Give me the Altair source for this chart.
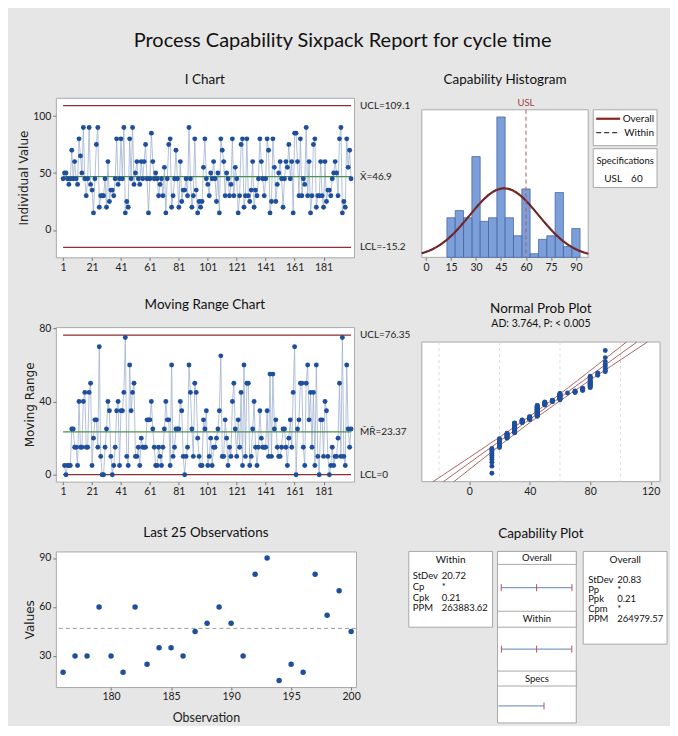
import altair as alt
import numpy as np
import pandas as pd
from statistics import NormalDist

# ---------------- data ----------------
cycle_time = [
    45, 50, 50, 45, 40, 45, 70, 45, 60, 45,
    40, 80, 65, 50, 90, 45, 30, 45, 90, 40,
    35, 15, 45, 75, 90, 20, 30, 30, 30, 45,
    20, 60, 25, 35, 35, 30, 45, 80, 40, 45,
    80, 45, 90, 15, 25, 20, 80, 45, 90, 40,
    50, 60, 45, 40, 60, 45, 60, 75, 45, 15,
    45, 85, 60, 45, 50, 45, 30, 40, 45, 30,
    55, 15, 45, 75, 80, 20, 30, 45, 70, 45,
    20, 60, 25, 35, 35, 45, 30, 90, 45, 20,
    30, 80, 35, 15, 25, 20, 25, 55, 80, 45,
    40, 30, 50, 45, 60, 45, 25, 50, 15, 80,
    70, 60, 30, 50, 45, 30, 40, 80, 30, 55,
    45, 15, 30, 75, 80, 20, 30, 80, 30, 25,
    35, 60, 20, 35, 30, 45, 80, 60, 45, 30,
    45, 80, 70, 15, 25, 80, 55, 25, 40, 50,
    60, 45, 20, 45, 60, 55, 75, 45, 60, 15,
    85, 85, 60, 30, 80, 30, 45, 40, 90, 30,
    60, 15, 30, 75, 80, 20, 30, 30, 60, 30,
    20, 60, 25, 35, 35, 30, 45, 50, 60, 50,
    30, 80, 90, 15, 25, 20, 80, 55, 70, 45,
]
x_bar = 46.9
i_ucl = 109.1
i_lcl = -15.2
mr_bar = 23.37
mr_ucl = 76.35
mr_lcl = 0.0
sd_within = 20.72
sd_overall = 20.83
usl = 60
bin_width = 5
n_last = 25

i_ticks = [1, 21, 41, 61, 81, 101, 121, 141, 161, 181]
i_value_ticks = [0, 50, 100]
mr_value_ticks = [0, 40, 80]
last_obs_ticks = [180, 185, 190, 195, 200]
last_value_ticks = [30, 60, 90]
hist_ticks = [0, 15, 30, 45, 60, 75, 90]
np_ticks = [0, 40, 80, 120]
np_grid_x = [-20, 20, 60, 100]
np_grid_pct = [1, 10, 50, 90, 99]

i_labels = ["UCL=109.1", "X\u0304=46.9", "LCL=-15.2"]
mr_labels = ["UCL=76.35", "M\u0304R\u0304=23.37", "LCL=0"]
ad_text = "AD: 3.764, P: < 0.005"
within_names = ["StDev", "Cp", "Cpk", "PPM"]
within_stats = ["20.72", "*", "0.21", "263883.62"]
overall_names = ["StDev", "Pp", "Ppk", "Cpm", "PPM"]
overall_stats = ["20.83", "*", "0.21", "*", "264979.57"]

# ---------------- styles ----------------
BG = "#e6e6e6"
FONT = "Lato, Roboto, sans-serif"
AXT = "DejaVu Sans, Verdana, sans-serif"
PT = "#1f4f9c"
CONN = "#9fb3d1"
LIM = "#8c2f2f"
CEN = "#4f8f4f"
HFILL = "#7c9fda"
HEDGE = "#3d5c9c"
OVR = "#8b2323"
BOXS = "#a9a9a9"
INTV = "#7f9cc6"
TICKC = "#c05050"
TRANSP = alt.ViewBackground(stroke="transparent", fill="transparent")

WL = 299
n = len(cycle_time)
obs = list(range(1, n + 1))
df = pd.DataFrame({"obs": obs, "value": cycle_time})
df_mr = df.assign(mr=df["value"].diff().abs()).dropna()
df_last = df.tail(n_last)
one = pd.DataFrame({"k": [0]})


def box(x1, x2, y1, y2):
    return alt.Chart(one).mark_rect(fill="white", stroke=BOXS, strokeWidth=1).encode(
        x=alt.value(x1), x2=alt.value(x2), y=alt.value(y1), y2=alt.value(y2))


def txt(s, x, y, align="left", size=10, baseline="middle", lh=None, color="#111"):
    kw = dict(align=align, baseline=baseline, font=FONT, fontSize=size, color=color)
    if lh is not None:
        kw["lineHeight"] = lh
    return alt.Chart(one).mark_text(**kw).encode(x=alt.value(x), y=alt.value(y), text=alt.value(s))


def ctrl(data, field, ydom, yticks, ytitle, limits, labels, h, title, toff):
    xs = alt.Scale(domain=[-4, 202], nice=False, zero=False)
    ys = alt.Scale(domain=ydom, nice=False, zero=False)
    xa = alt.Axis(values=i_ticks, title=None)
    ya = alt.Axis(values=yticks, title=ytitle, titlePadding=2)
    base = alt.Chart(data)
    conn = base.mark_line(color=CONN, strokeWidth=0.8).encode(
        x=alt.X("obs:Q", scale=xs, axis=xa), y=alt.Y(f"{field}:Q", scale=ys, axis=ya))
    lim = pd.DataFrame({"lv": limits, "lab": labels, "kind": ["limit", "center", "limit"],
                        "o1": [1] * 3, "o2": [n] * 3})
    rules = alt.Chart(lim).mark_rule(strokeWidth=1.2).encode(
        x=alt.X("o1:Q", scale=xs, axis=xa), x2="o2:Q",
        y=alt.Y("lv:Q", scale=ys, axis=ya),
        color=alt.Color("kind:N", scale=alt.Scale(domain=["limit", "center"], range=[LIM, CEN]), legend=None))
    pts = base.mark_circle(size=24, color=PT, opacity=1).encode(
        x=alt.X("obs:Q", scale=xs, axis=xa), y=alt.Y(f"{field}:Q", scale=ys, axis=ya))
    labs = alt.Chart(lim).mark_text(align="left", baseline="middle", font=FONT, fontSize=10, color="#222").encode(
        x=alt.value(WL + 6), y=alt.Y("lv:Q", scale=ys, axis=ya), text="lab:N")
    return alt.layer(conn, rules, pts, labs).properties(
        width=WL, height=h, title=alt.TitleParams(title, offset=toff))


i_chart = ctrl(df, "value", [-24, 116], i_value_ticks, "Individual Value",
               [i_ucl, x_bar, i_lcl], i_labels, 160, "I Chart", 11)
mr_chart = ctrl(df_mr, "mr", [-3.8, 80.7], mr_value_ticks, "Moving Range",
                [mr_ucl, mr_bar, mr_lcl], mr_labels, 155, "Moving Range Chart", 12)

# ---------------- Last 25 observations ----------------
ls_x = alt.Scale(domain=[175.4, 200.4], nice=False, zero=False)
ls_y = alt.Scale(domain=[11, 94], nice=False, zero=False)
ls_xa = alt.Axis(values=last_obs_ticks, title="Observation", titleFont=FONT, titleFontSize=12.5, titlePadding=9)
ls_ya = alt.Axis(values=last_value_ticks, title="Values", titlePadding=2)
last_mean = alt.Chart(pd.DataFrame({"m": [x_bar]})).mark_rule(color="#9a9a9a", strokeDash=[4, 3], strokeWidth=1).encode(
    y=alt.Y("m:Q", scale=ls_y, axis=ls_ya))
last_pts = alt.Chart(df_last).mark_circle(size=30, color=PT, opacity=1).encode(
    x=alt.X("obs:Q", scale=ls_x, axis=ls_xa), y=alt.Y("value:Q", scale=ls_y, axis=ls_ya))
last_chart = alt.layer(last_mean, last_pts).properties(
    width=301, height=136, title=alt.TitleParams("Last 25 Observations", offset=12))

# ---------------- Capability histogram ----------------
HW, HH, HTOP = 167, 160, 12
h_x = alt.Scale(domain=[-2.6, 97.4], nice=False, zero=False)
h_y = alt.Scale(domain=[0, 41], range=[HH, HTOP], nice=False)
h_xa = alt.Axis(values=hist_ticks, title=None)
bars = alt.Chart(df).transform_bin(
    ["b0", "b1"], "value", bin=alt.Bin(extent=[12.5, 97.5], step=bin_width, nice=False)
).transform_aggregate(cnt="count()", groupby=["b0", "b1"]).mark_rect(
    color=HFILL, stroke=HEDGE, strokeWidth=0.7, opacity=1).encode(
    x=alt.X("b0:Q", scale=h_x, axis=h_xa), x2="b1:Q",
    y=alt.Y("cnt:Q", scale=h_y, axis=None), y2=alt.datum(0))
curve_src = alt.sequence(-2.6, 97.45, 0.5, as_="xv")
curve_over = alt.Chart(curve_src).transform_calculate(
    d=f"densityNormal(datum.xv, {x_bar}, {sd_overall}) * {n * bin_width}"
).mark_line(color=OVR, strokeWidth=2.2).encode(
    x=alt.X("xv:Q", scale=h_x, axis=h_xa), y=alt.Y("d:Q", scale=h_y, axis=None))
curve_within = alt.Chart(curve_src).transform_calculate(
    d=f"densityNormal(datum.xv, {x_bar}, {sd_within}) * {n * bin_width}"
).mark_line(color="#3a3a3a", strokeWidth=1.1, strokeDash=[5, 3]).encode(
    x=alt.X("xv:Q", scale=h_x, axis=h_xa), y=alt.Y("d:Q", scale=h_y, axis=None))
usl_df = pd.DataFrame({"usl": [usl]})
usl_rule = alt.Chart(usl_df).mark_rule(color="#b05a5a", strokeDash=[4, 3], strokeWidth=1).encode(
    x=alt.X("usl:Q", scale=h_x, axis=h_xa), y=alt.value(HTOP), y2=alt.value(HH))
usl_txt = alt.Chart(usl_df).mark_text(font=FONT, fontSize=9.5, color="#a04545", baseline="bottom").encode(
    x=alt.X("usl:Q", scale=h_x, axis=h_xa), y=alt.value(HTOP - 2), text=alt.value("USL"))
leg_over = alt.Chart(one).mark_rule(color=OVR, strokeWidth=2.2).encode(
    x=alt.value(175), x2=alt.value(199), y=alt.value(HTOP + 9))
leg_within = alt.Chart(one).mark_rule(color="#3a3a3a", strokeWidth=1.3, strokeDash=[5, 3]).encode(
    x=alt.value(175), x2=alt.value(199), y=alt.value(HTOP + 23))
hist_chart = alt.layer(
    box(0, HW, HTOP, HH),
    bars, curve_over, curve_within, usl_rule, usl_txt,
    box(172, 236, HTOP, HTOP + 36), leg_over, leg_within,
    txt("Overall", 233, HTOP + 9, align="right"), txt("Within", 233, HTOP + 23, align="right"),
    box(172, 236, HTOP + 39, HTOP + 78), txt("Specifications", 204, HTOP + 51, align="center", size=9.5),
    txt("USL", 183, HTOP + 69), txt(str(usl), 210, HTOP + 69),
).properties(width=HW, height=HH, view=TRANSP,
             title=alt.TitleParams("Capability Histogram", offset=11))

# ---------------- Normal probability plot ----------------
NW, NH, NTOP = 239, 155, 15
np_xs = alt.Scale(domain=[-31.4, 126.2], nice=False, zero=False)
np_ys = alt.Scale(domain=[-3.07, 3.07], range=[NH, NTOP], nice=False, zero=False)
np_grid_z = [NormalDist().inv_cdf(p / 100) for p in np_grid_pct]
np_xa = alt.Axis(values=np_ticks, title=None, grid=False)
np_ya = alt.Axis(values=np_grid_z, labels=False, ticks=False, grid=True, gridDash=[3, 3],
                 gridColor="#dcdcdc", title=None)
np_vgrid = alt.Chart(pd.DataFrame({"g": np_grid_x})).mark_rule(
    color="#dcdcdc", strokeDash=[3, 3], strokeWidth=1).encode(
    x=alt.X("g:Q", scale=np_xs, axis=np_xa), y=alt.value(NTOP), y2=alt.value(NH))
zs = np.linspace(-3.07, 3.07, 41)
half = 1.96 * sd_overall * np.sqrt(1 / n + zs ** 2 / (2 * (n - 1)))
fit_df = pd.concat([
    pd.DataFrame({"z": zs, "xv": x_bar + sd_overall * zs - half, "s": "lo"}),
    pd.DataFrame({"z": zs, "xv": x_bar + sd_overall * zs, "s": "fit"}),
    pd.DataFrame({"z": zs, "xv": x_bar + sd_overall * zs + half, "s": "hi"}),
])
np_fit = alt.Chart(fit_df).mark_line(color="#a05050", strokeWidth=0.9).encode(
    x=alt.X("xv:Q", scale=np_xs, axis=np_xa), y=alt.Y("z:Q", scale=np_ys, axis=np_ya),
    detail="s:N", order="z:Q")
np_pts = alt.Chart(df).transform_window(
    rk="row_number()", sort=[alt.SortField("value", order="ascending")]
).transform_calculate(
    z=f"quantileNormal((datum.rk - 0.3) / ({n} + 0.4))"
).mark_circle(size=24, color=PT, opacity=1).encode(
    x=alt.X("value:Q", scale=np_xs, axis=np_xa), y=alt.Y("z:Q", scale=np_ys, axis=np_ya))
np_chart = alt.layer(box(0, NW, NTOP, NH), np_vgrid, np_fit, np_pts).properties(
    width=NW, height=NH, view=TRANSP,
    title=alt.TitleParams("Normal Prob Plot", subtitle=ad_text, subtitleFont=FONT, subtitleFontSize=10.5,
                          subtitleColor="#111", subtitlePadding=3, offset=-2))

# ---------------- Capability plot ----------------
CW, CH = 239, 172
cap_xs = alt.Scale(domain=[-156, 265], nice=False, zero=False)
bands = [("Overall", x_bar - 3 * sd_overall, x_bar, x_bar + 3 * sd_overall, 36.3),
         ("Within", x_bar - 3 * sd_within, x_bar, x_bar + 3 * sd_within, 98)]
cap_layers = [
    box(-13, 71, 0, 76), txt("Within", 29, 9, align="center"),
    txt(within_names, -9, 20, baseline="top", size=9.5, lh=10.7),
    txt(within_stats, 20, 20, baseline="top", size=9.5, lh=10.7),
    box(162, 246, 0, 93), txt("Overall", 204, 9, align="center"),
    txt(overall_names, 167, 24, baseline="top", size=9.5, lh=9.6),
    txt(overall_stats, 196, 24, baseline="top", size=9.5, lh=9.6),
    box(76, 155, 0, CH),
    box(76, 155, 0, 13), txt("Overall", 115.5, 6.5, align="center", size=9.5),
    box(76, 155, 60, 76), txt("Within", 115.5, 68, align="center", size=9.5),
    box(76, 155, 120, 135), txt("Specs", 115.5, 127.5, align="center", size=9.5),
]
for name, lo, mid, hi, yc in bands:
    bdf = pd.DataFrame({"lo": [lo], "mid": [mid], "hi": [hi]})
    cap_layers.append(alt.Chart(bdf).mark_rule(color=INTV, strokeWidth=1.3).encode(
        x=alt.X("lo:Q", scale=cap_xs, axis=None), x2="hi:Q", y=alt.value(yc)))
    cap_layers.append(alt.Chart(bdf).transform_fold(["lo", "mid", "hi"], as_=["k", "v"]).mark_rule(
        color=TICKC, strokeWidth=1).encode(
        x=alt.X("v:Q", scale=cap_xs, axis=None), y=alt.value(yc - 3.5), y2=alt.value(yc + 3.5)))
cap_layers.append(alt.Chart(usl_df).mark_rule(color=INTV, strokeWidth=1.3).encode(
    x=alt.X("usl:Q", scale=cap_xs, axis=None), x2=alt.value(77), y=alt.value(155)))
cap_layers.append(alt.Chart(usl_df).mark_rule(color=TICKC, strokeWidth=1).encode(
    x=alt.X("usl:Q", scale=cap_xs, axis=None), y=alt.value(151.5), y2=alt.value(158.5)))
cap_chart = alt.layer(*cap_layers).properties(
    width=CW, height=CH, view=TRANSP, title=alt.TitleParams("Capability Plot", offset=10))

chart = alt.concat(
    i_chart, hist_chart, mr_chart, np_chart, last_chart, cap_chart,
    columns=2, spacing={"row": 70, "column": 66}, bounds="flush", align="each",
).properties(
    title=alt.TitleParams("Process Capability Sixpack Report for cycle time", fontSize=20,
                          font=FONT, anchor="middle", offset=22, color="#111"),
    background=BG,
    padding={"left": 9, "top": 22, "right": 2, "bottom": 0},
).configure_axis(
    labelFont=FONT, labelFontSize=10.5, labelColor="#222", titleFont=AXT, titleFontSize=12,
    titleFontWeight="normal", titleColor="#222", tickColor="#777", tickSize=3, domain=False,
    grid=False, labelPadding=2, labelFlush=False, labelOverlap=False,
).configure_view(stroke=BOXS, fill="white").configure_title(
    font=FONT, fontSize=13.5, fontWeight="normal", color="#111", anchor="middle")

chart.save("out.html", embed_options={"renderer": "svg", "actions": False})
